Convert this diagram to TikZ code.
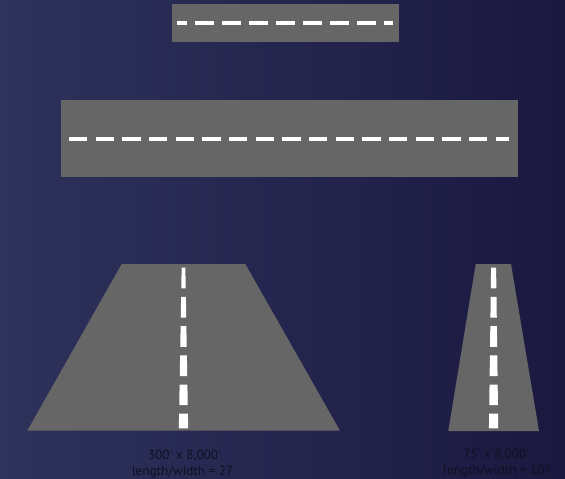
\documentclass[tikz,border=0pt]{standalone}
\usepackage{fontspec}
\newfontfamily\lblfont[Ligatures=TeXOff]{PT Sans}
\definecolor{bgL}{RGB}{46,51,92}
\definecolor{bgM}{RGB}{42,42,82}
\definecolor{bgR}{RGB}{27,24,64}
\definecolor{road}{RGB}{102,102,102}
\definecolor{lblc}{RGB}{16,16,32}
\tikzset{
  lbl/.style={text=lblc, font=\lblfont\fontsize{13.2}{15}\selectfont, inner sep=0pt, anchor=center},
  stripe/.style={fill=white},
  roadfill/.style={fill=road}
}
\begin{document}
\begin{tikzpicture}[x=1pt,y=-1pt]
\useasboundingbox (0,0) rectangle (565,479);
\shade[left color=bgL, middle color=bgM, right color=bgR] (0,0) rectangle (565,479);

% top road
\fill[roadfill] (172,4) rectangle (399,42);
\fill[stripe] (177.3,21) rectangle (186.7,25.3);
\foreach \i in {0,...,6} {
  \pgfmathsetmacro\xx{195+27*\i}
  \fill[stripe] (\xx,21) rectangle ++(18.5,4.3);
}
\fill[stripe] (384,21) rectangle (393.3,25.3);

% middle road
\fill[roadfill] (61,100) rectangle (518,177.3);
\foreach \i in {0,...,15} {
  \pgfmathsetmacro\xx{69+26.67*\i}
  \fill[stripe] (\xx,136.7) rectangle ++(18.3,4.3);
}
\fill[stripe] (496,136.7) rectangle (509.3,141);

% left runway (perspective)
\fill[roadfill] (121.7,264) -- (245.3,264) -- (340,430.7) -- (27.3,430.7) -- cycle;
\foreach \i in {0,...,5} {
  \pgfmathsetmacro\ya{267.7+29.2*\i}
  \pgfmathsetmacro\yb{min(\ya+20.7,428.3)}
  \pgfmathsetmacro\wa{(3.7+(\ya-267.7)*0.0349)/2}
  \pgfmathsetmacro\wb{(3.7+(\yb-267.7)*0.0349)/2}
  \fill[stripe] (183.5-\wa,\ya) -- (183.5+\wa,\ya) -- (183.5+\wb,\yb) -- (183.5-\wb,\yb) -- cycle;
}

% right runway (perspective)
\fill[roadfill] (475.7,264) -- (511,264) -- (539,431) -- (448.3,431) -- cycle;
\foreach \i in {0,...,5} {
  \pgfmathsetmacro\ya{267.7+29.2*\i}
  \pgfmathsetmacro\yb{min(\ya+20.7,428.3)}
  \pgfmathsetmacro\wa{(5+(\ya-267.7)*0.0268)/2}
  \pgfmathsetmacro\wb{(5+(\yb-267.7)*0.0268)/2}
  \fill[stripe] (493.6-\wa,\ya) -- (493.6+\wa,\ya) -- (493.6+\wb,\yb) -- (493.6-\wb,\yb) -- cycle;
}

% labels
\node[lbl] (l1) at (184.5,455.7) {300' x 8,000'};
\node[lbl] (l2) at (182.5,472.3) {length/width = 27};
\node[lbl] (r1) at (496.2,455) {75' x 8,000'};
\node[lbl] (r2) at (497.5,471) {length/width = 107};
\end{tikzpicture}
\end{document}
